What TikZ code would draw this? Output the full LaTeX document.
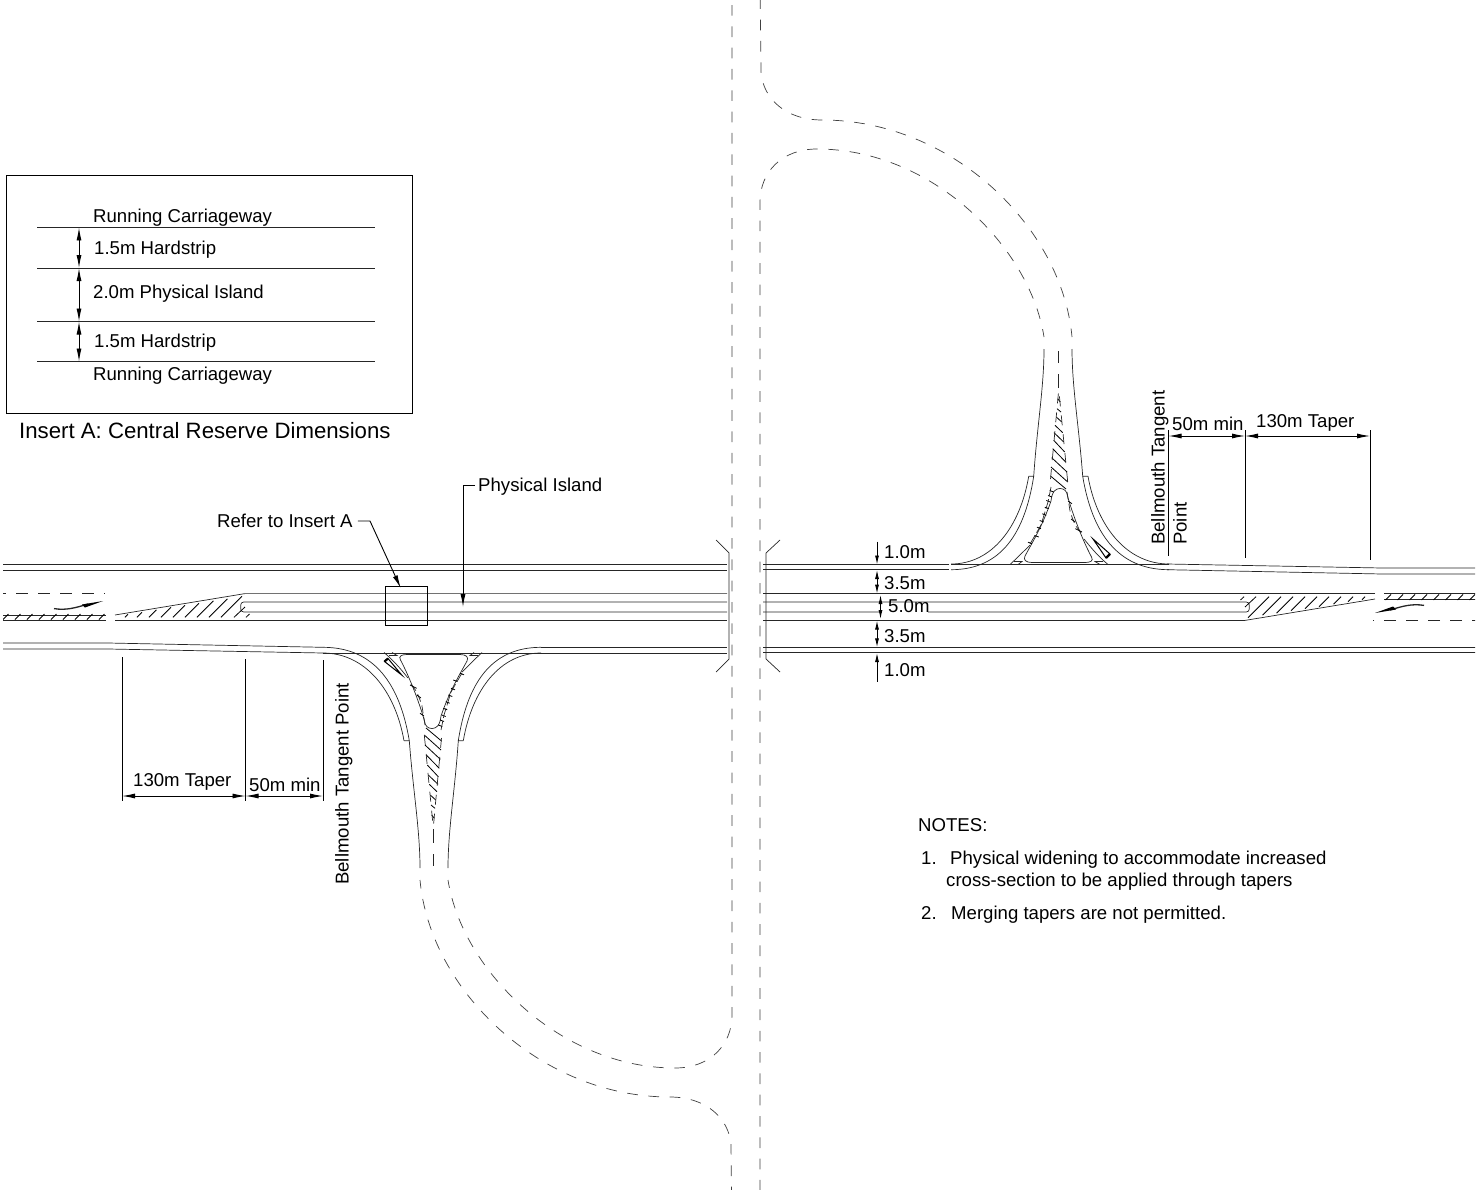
\documentclass[tikz,border=0pt]{standalone}
\usepackage{fontspec}
\setmainfont{Liberation Sans}
\usetikzlibrary{arrows.meta}

% centre of the carriageway, drawn twice
\newcommand{\centrerd}{
  % edges of the taper and the island
  \draw[rdline] (0,620.6) -- (106,620.6);
  \draw[rdline] (0,615) -- (106,615);
  \draw[rdline] (115,620.6) -- (727,620.6);
  \draw[rdline] (115,615) -- (245,593.6) -- (727,593.6);
  \draw[rdline,rounded corners=3pt] (727,602) -- (240.7,602) -- (240.7,612) -- (727,612);
  % hatching
  \foreach \xh in {3,15,27,39,51,63,75,87,99}
    \draw[hatchln] (\xh,619.5) -- ++(5.5,-5.5);
  \foreach \xh/\th in {125/3,137/5,149/7.5,161/10,173/12,185/14,197/16.5,209/18.5,221/21}
    \draw[hatchln] (\xh,617.3) -- ++(\th,-\th);
  \draw[hatchln] (234,617.3) -- (245,607);
  \draw[hatchln] (246,617.3) -- (249.5,614);
}

% dashes and arrow beside the taper
\newcommand{\lanemark}{
  \draw[rdline,dash pattern=on 12pt off 10pt] (-6,593.5) -- (105,593.5);
  \draw[rdline,line width=1.3pt] (54,608.6) .. controls (66,610.5) and (75,608) .. (88,604);
  \fill[black] (103,601) -- (82,604.5) -- (85,607.5) -- cycle;
}

% straight outer lines, drawn twice
\newcommand{\outerrd}{
  \draw[rdline] (0,564.5) -- (727,564.5);
  \draw[rdline] (0,570) -- (727,570);
  \draw[rdline] (0,643) -- (108,643) -- (323,647.3);
  \draw[rdline] (0,649) -- (108,649) -- (323,653);
  \draw[rdline] (541,653) -- (727,653);
  \draw[rdline] (541,647.3) -- (727,647.3);
}

% side road, drawn twice
\newcommand{\siderd}{
  \draw[rdline] (323,653) -- (541,653);
  % bellmouth
  \draw[rdline] (323,647.3) .. controls (375,647.3) and (400,685) .. (409.3,740.7) -- (404,740.7);
  \draw[rdline] (323,653) .. controls (365,653) and (395,690) .. (404,740.7);
  \draw[rdline] (541,647.3) .. controls (490,647.3) and (467,685) .. (458.3,740.7) -- (463.3,740.7);
  \draw[rdline] (541,653) .. controls (500,653) and (472,690) .. (463.3,740.7);
  \draw[rdline] (409.3,740.7) .. controls (413,790) and (420,830) .. (420,868);
  \draw[rdline] (458.3,740.7) .. controls (455,790) and (448,830) .. (448,868);
  % island
  \draw[rdline] (407,654.5) -- (460,654.5) .. controls (466,654.5) and (469,657) .. (467,661)
    .. controls (460,674) and (450,690) .. (441,716) .. controls (440,726) and (436,728.5) .. (432,728.5)
    .. controls (428,728.5) and (425,726) .. (424.5,721) .. controls (420,705) and (411,680) .. (400.5,660)
    .. controls (398,656) and (402,654.5) .. (407,654.5);
  \draw[rdline] (384,652.5) .. controls (393,660) and (400,668) .. (408,678);
  \draw[rdline] (482,652.5) .. controls (474,660) and (468,666) .. (462,672);
  \draw[rdline] (392,652.5) -- (397,655.5) -- (389,655.5);
  \draw[rdline] (474,652.5) -- (470,655.5) -- (478,655.5);
  % gore
  \draw[rdline,dash pattern=on 8pt off 4pt] (411,684.3) -- (416.7,691.7) -- (421.7,704.3) -- (425,725);
  \draw[rdline,dash pattern=on 10pt off 3pt] (462,673) -- (451,692) -- (444,715) -- (441,730);
  \foreach \xt/\yt in {460/673.3,453.3/680,451/688.3,448.3/695,445.7/701.7,443.3/708.3,441.7/715,440/720,438.3/725}
    \draw[hatchln] (\xt,\yt) -- ++(4,1.5);
  \foreach \xa/\ya/\xb/\yb in {410/685/416.7/688.3,416.7/695/421/698,420/713.3/424/716}
    \draw[hatchln] (\xa,\ya) -- (\xb,\yb);
  \foreach \xa/\ya/\xb/\yb in {426/728/441.5/741,424.3/735/441/750,425/745/440.3/759.3,426.3/755/439.3/768.3,427.3/765/438.3/776.7,428.3/775/438/784.3,429.3/784.3/437/791.7,430.3/795/435.7/800,431/805/435/808.3,431.7/815/434.3/818.3}
    \draw[hatchln] (\xa,\ya) -- (\xb,\yb);
  \draw[rdline,dash pattern=on 10pt off 9pt] (424.3,735) -- (433,825);
  \draw[rdline,dash pattern=on 10pt off 9pt] (441.5,738) -- (433.5,825);
  \draw[rdline,dash pattern=on 14pt off 11pt] (433.3,829) -- (433.3,866);
  % link to the main road
  \draw[dashln] (732,-37.6) -- (732,1015) .. controls (732,1045) and (710,1068) .. (675,1068)
    .. controls (560,1068) and (462,970) .. (448,880);
  \draw[dashln] (732,1240) -- (731,1145) .. controls (729,1118) and (706,1097) .. (670,1097)
    .. controls (540,1097) and (430,990) .. (420,880);
}

\tikzset{x=1pt,y=-1pt
  ,rdline/.style={line width=.7pt,draw=black!85}
  ,hatchln/.style={line width=.8pt,draw=black}
  ,dashln/.style={line width=.7pt,draw=black!75,dash pattern=on 10.66pt off 10.66pt}
  ,dimline/.style={line width=.9pt,draw=black,{Latex[length=13pt,width=5pt]}-{Latex[length=13pt,width=5pt]}}
  ,dimend/.style={line width=.9pt,draw=black,-{Latex[length=13pt,width=5pt]}}
  ,smalldim/.style={line width=.9pt,draw=black,{Latex[length=9pt,width=4pt]}-{Latex[length=9pt,width=4pt]}}
  ,smallend/.style={line width=.9pt,draw=black,-{Latex[length=9pt,width=4pt]}}
  ,lbl/.style={anchor=west,inner sep=0pt,text height=13.3pt,text depth=0pt,font=\fontsize{18.6}{20}\selectfont}
}

\begin{document}
\begin{tikzpicture}
  \useasboundingbox (0,0) rectangle (1479,1190);
  \clip (3,0) rectangle (1475,1190);

  \centrerd
  \begin{scope}[rotate around={180:(745,607)}]
    \centrerd
  \end{scope}
  \lanemark
  \begin{scope}[rotate around={180:(739,607)}]
    \lanemark
  \end{scope}
  \outerrd
  \begin{scope}[rotate around={180:(745,608.5)}]
    \outerrd
  \end{scope}
  \siderd
  \begin{scope}[rotate around={180:(746,608.5)}]
    \siderd
  \end{scope}

  % kerbs at the main road
  \draw[rdline] (716,540) -- (729,553) -- (729,659) -- (716,672);
  \draw[rdline] (780,540) -- (766,553) -- (766,659) -- (780,672);

  % give way triangles
  \draw[line width=1pt,fill=white] (401.7,675) -- (384.5,661.5) -- (388,658.5) -- cycle;
  \draw[line width=2.2pt] (384.5,661.5) -- (388,658.5);
  \draw[line width=1pt,fill=white] (1093,539) -- (1110,554) -- (1106,558) -- cycle;
  \draw[line width=2.2pt] (1110,554) -- (1106,558);

  % insert
  \draw[line width=.8pt] (6,175) rectangle (412,413.5);
  \foreach \yl in {227.5,268,321.5,361.5}
    \draw[rdline] (37,\yl) -- (375,\yl);
  \draw[dimline] (79,227.5) -- (79,268);
  \draw[dimline] (79,268) -- (79,321.5);
  \draw[dimline] (79,321.5) -- (79,361.5);
  \node[lbl] (rc1) at (93,216) {Running Carriageway};
  \node[lbl] (hs1) at (94,248) {1.5m Hardstrip};
  \node[lbl] (pi1) at (93,292) {2.0m Physical Island};
  \node[lbl] (hs2) at (94,341) {1.5m Hardstrip};
  \node[lbl] (rc2) at (93,374) {Running Carriageway};
  \node[lbl,font=\fontsize{22.2}{24}\selectfont] (ins) at (19,432) {Insert A: Central Reserve Dimensions};

  % leaders
  \node[lbl] (ref) at (217,521) {Refer to Insert A};
  \node[lbl] (phy) at (478,485) {Physical Island};
  \draw[line width=.8pt] (385,586.5) rectangle (427.5,625.5);
  \draw[dimend] (ref.east) ++(5,0) -- (370,521) -- (400.7,588);
  \draw[dimend] (phy.west) ++(-3,0) -- (463,485) -- (463,607);

  % dimensions, left
  \draw[line width=.9pt] (122,657) -- (122,801);
  \draw[line width=.9pt] (245.5,659) -- (245.5,801);
  \draw[line width=.9pt] (323,660) -- (323,801);
  \draw[dimline] (122,796) -- (245.5,796);
  \draw[dimline] (245.5,796) -- (323,796);
  \node[lbl] (tap1) at (133,780) {130m Taper};
  \node[lbl] (min1) at (249,785) {50m min};
  \node[lbl,rotate=90] (bel1) at (342,885) {Bellmouth Tangent Point};

  % dimensions, right
  \draw[line width=.9pt] (1168.5,430) -- (1168.5,556);
  \draw[line width=.9pt] (1245,430) -- (1245,558);
  \draw[line width=.9pt] (1370,430) -- (1370,560);
  \draw[dimline] (1168.5,436) -- (1245,436);
  \draw[dimline] (1245,436) -- (1370,436);
  \node[lbl] (min2) at (1172,424) {50m min};
  \node[lbl] (tap2) at (1256,421) {130m Taper};
  \node[lbl,rotate=90] (bel2) at (1158,545) {Bellmouth Tangent};
  \node[lbl,rotate=90] (pnt2) at (1180,545) {Point};

  % cross section
  \draw[white,line width=3pt] (882,612) -- (928,612);
  \draw[smallend] (877,541.7) -- (877,564.5);
  \draw[smalldim] (877,570) -- (877,593.6);
  \draw[smalldim] (880.5,595) -- (880.5,619);
  \draw[smalldim] (877,620.6) -- (877,647.3);
  \draw[smallend] (877,681.7) -- (877,653);
  \node[lbl] (w1) at (884,552) {1.0m};
  \node[lbl] (w2) at (884,583) {3.5m};
  \node[lbl] (w3) at (888,606) {5.0m};
  \node[lbl] (w4) at (884,636) {3.5m};
  \node[lbl] (w5) at (884,670) {1.0m};

  % notes
  \node[lbl] (nts) at (918,825) {NOTES:};
  \node[lbl] (n1)  at (921,858) {1.};
  \node[lbl] (t1a) at (950,858) {Physical widening to accommodate increased};
  \node[lbl] (t1b) at (946,880) {cross-section to be applied through tapers};
  \node[lbl] (n2)  at (921,913) {2.};
  \node[lbl] (t2)  at (951,913) {Merging tapers are not permitted.};
\end{tikzpicture}
\end{document}
